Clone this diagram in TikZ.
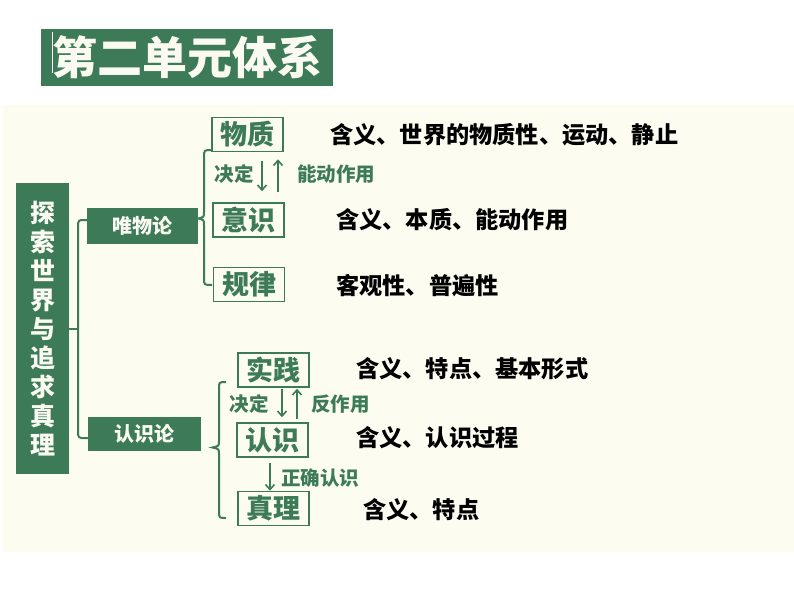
\documentclass[tikz,border=0pt]{standalone}
\usepackage{fontspec}
\newfontfamily\cjk{Noto Sans CJK SC}
\usetikzlibrary{calc,arrows.meta}
\definecolor{gr}{RGB}{60,122,88}
\definecolor{cream}{RGB}{252,253,240}
\definecolor{wt}{RGB}{250,250,240}
\begin{document}
\begin{tikzpicture}[x=1pt,y=-1pt,
 fbox/.style={fill=gr,text=wt,inner sep=0pt,font=\cjk\bfseries\fontsize{20}{20}\selectfont},
 obox/.style={draw=gr,line width=1.6pt,fill=cream,text=gr,inner sep=0pt,minimum width=71pt,minimum height=34pt,font=\cjk\bfseries\fontsize{27}{27}\selectfont},
 lbl/.style={text=gr,font=\cjk\bfseries\fontsize{19.5}{19.5}\selectfont,inner sep=0pt},
 desc/.style={anchor=west,text=black,font=\cjk\bfseries\fontsize{23.2}{23.2}\selectfont,inner sep=0pt},
 conn/.style={draw=gr,line width=2pt},
 arr/.style={draw=gr,line width=1.6pt,-{Straight Barb[length=5pt,width=9pt]}}
]
\useasboundingbox (0,0) rectangle (794,596);
\fill[white] (0,0) rectangle (794,596);
\fill[cream] (3,105) rectangle (794,552);

% title
\node[fbox,minimum width=292pt,minimum height=57pt,font=\cjk\bfseries\fontsize{45}{45}\selectfont] (title) at (187,57.5) {第二单元体系};
\draw[white,line width=1.2pt] (52.5,32) -- (52.5,73);

% main box
\node[fbox,minimum width=53pt,minimum height=291pt,align=center,font=\cjk\bfseries\fontsize{25}{29}\selectfont] (main) at (42.5,328.5) {探\\索\\世\\界\\与\\追\\求\\真\\理};

\node[fbox,minimum width=111pt,minimum height=36pt] (wwl) at (142.5,226) {唯物论};
\node[fbox,minimum width=113pt,minimum height=34pt] (rsl) at (144.5,434) {认识论};

\draw[conn] (main.east) -- ++(9,0) coordinate (mj);
\draw[conn,rounded corners=3pt] ([yshift=6pt]wwl.west) -| (mj) |- ([yshift=-4pt]rsl.west);

% upper group
\node[obox] (wz) at (247.5,134.5) {物质};
\node[obox] (ys) at (248.5,220) {意识};
\node[obox] (gl) at (249,284.5) {规律};

\draw[conn] (212,150) .. controls (204,150) .. (204,157) -- (204,212)
  .. controls (204,217) .. (198.5,218.5) .. controls (204,220) .. (204,225)
  -- (204,278) .. controls (204,285) .. (212,285);

\draw[arr] ([xshift=14.5pt,yshift=-8.5pt]wz.south) -- ([xshift=13.5pt,yshift=11pt]ys.north);
\draw[arr] ([xshift=29.5pt,yshift=10pt]ys.north) -- ([xshift=30.5pt,yshift=-7pt]wz.south);
\node[lbl] (jd1) at (234,174) {决定};
\node[lbl,anchor=west] (nd) at (297,174) {能动作用};

\node[desc] (d1) at (330,135) {含义、世界的物质性、运动、静止};
\node[desc] (d2) at (336,220) {含义、本质、能动作用};
\node[desc] (d3) at (336,286) {客观性、普遍性};

% lower group
\node[obox] (sj) at (273.5,370) {实践};
\node[obox] (rs) at (272.5,440) {认识};
\node[obox] (zl) at (273.5,508.5) {真理};

\draw[conn] (226,382) .. controls (219,382) .. (219,389) -- (219,441)
  .. controls (219,446) .. (212.5,447.5) .. controls (219,449) .. (219,454)
  -- (219,511) .. controls (219,518) .. (226,518);

\draw[arr] ([xshift=8.5pt,yshift=-1pt]sj.south) -- ([xshift=9.5pt,yshift=5pt]rs.north);
\draw[arr] ([xshift=24.5pt,yshift=3pt]rs.north) -- ([xshift=23.5pt,yshift=-1pt]sj.south);
\draw[arr] ([xshift=-2.5pt,yshift=-5pt]rs.south) -- ([xshift=-3.5pt]zl.north);
\node[lbl] (jd2) at (249,404) {决定};
\node[lbl,anchor=west] (fzy) at (311,404) {反作用};
\node[lbl,anchor=west] (zq) at (281,478) {正确认识};

\node[desc] (d4) at (356,369) {含义、特点、基本形式};
\node[desc] (d5) at (356,438) {含义、认识过程};
\node[desc] (d6) at (363,510) {含义、特点};
\end{tikzpicture}
\end{document}
